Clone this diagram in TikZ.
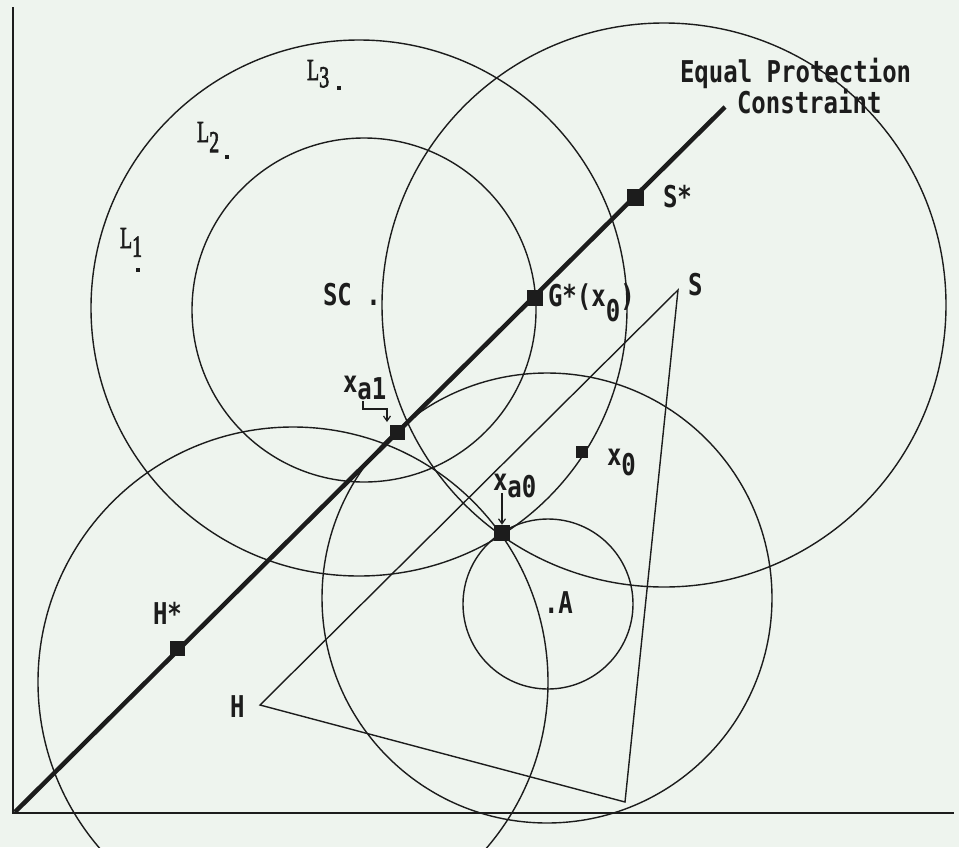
\documentclass[tikz,border=0pt]{standalone}
\usepackage{fontspec}
\setmonofont{DejaVu Sans Mono}
\newfontfamily\myLfont[FakeBold=2.5]{Liberation Serif}
\usetikzlibrary{arrows.meta,calc}
\definecolor{bgc}{RGB}{238,244,238}
\definecolor{ink}{RGB}{28,28,28}
\newcommand{\mylbl}[1]{\scalebox{1}[1.25]{\fontsize{24}{24}\selectfont\ttfamily\bfseries #1}}
\newcommand{\mylo}[2]{\raisebox{-#1pt}{#2}}
\newcommand{\myLsub}[2]{\scalebox{0.95}[1.45]{\fontsize{21}{21}\selectfont\myLfont L\raisebox{-#1pt}{#2}}}
\begin{document}
\begin{tikzpicture}[x=1pt,y=-1pt,
  curve/.style={draw=ink,line width=1.4pt},
  axis/.style={draw=ink,line width=2pt},
  epc/.style={draw=ink,line width=4.5pt},
  sq/.style={rectangle,fill=ink,inner sep=0pt,minimum size=#1},
  sq/.default=16pt,
  dotn/.style={rectangle,fill=ink,inner sep=0pt,minimum width=4pt,minimum height=4pt},
  lbl/.style={inner sep=0pt,outer sep=0pt,text=ink,anchor=base west},
  arr/.style={draw=ink,line width=1.2pt,-{Straight Barb[length=5pt,width=7pt]}}]
\fill[bgc] (0,0) rectangle (959,847);
\useasboundingbox (0,0) rectangle (959,847);
\clip (0,0) rectangle (959,847);
% centres
\coordinate (SC) at (359,308);
\coordinate (SCi) at (364,310);
\coordinate (Sc) at (664,305);
\coordinate (Hc) at (293,682);
\coordinate (Ac) at (547,598);
\coordinate (Asc) at (548,604);
% axes
\coordinate (Y) at (13,7);
\coordinate (O) at (13,813);
\coordinate (X) at (954,813);
\draw[axis] (Y) -- (O) -- (X);
% circles
\draw[curve] (SC) circle (268);
\draw[curve] (SCi) circle (172);
\draw[curve] (Sc) circle (282);
\draw[curve] (Hc) circle (255);
\draw[curve] (Ac) circle (225);
\draw[curve] (Asc) circle (85);
% triangle
\coordinate (Hv) at (260,705);
\coordinate (Sv) at (678,290);
\coordinate (Bv) at (625,802);
\draw[curve,line join=miter] (Hv) -- (Sv) -- (Bv) -- cycle;
% equal protection constraint
\coordinate (E0) at (15,812);
\coordinate (E1) at (725,107);
\draw[epc] (E0) -- (E1);
% points
\node[sq=17pt] (Sstar) at (635,197) {};
\node[sq=16pt] (Gstar) at (535,298) {};
\node[sq=15pt] (xa1) at (397,432) {};
\node[sq=16pt] (xa0) at (502,533) {};
\node[sq=15pt] (Hstar) at (177,648) {};
\node[sq=12pt] (x0) at (582,452) {};
% labels
\node[lbl] (eq1) at (680,82) {\mylbl{Equal Protection}};
\node[lbl] (eq2) at (737,113) {\mylbl{Constraint}};
\node[lbl] (tSstar) at (663,207) {\mylbl{S*}};
\node[lbl] (tGstar) at (548,306) {\mylbl{G*(x\mylo{12}{0})}};
\node[lbl] (tS) at (688,295) {\mylbl{S}};
\node[lbl] (tSC) at (323,305) {\mylbl{SC .}};
\node[lbl] (txa1) at (343,392) {\mylbl{x\mylo{6}{a1}}};
\node[lbl] (txa0) at (493,490) {\mylbl{x\mylo{6}{a0}}};
\node[lbl] (tx0) at (607,465) {\mylbl{x\mylo{8}{0}}};
\node[lbl] (tA) at (544,613) {\mylbl{.A}};
\node[lbl] (tHstar) at (153,624) {\mylbl{H*}};
\node[lbl] (tH) at (230,717) {\mylbl{H}};
\node[lbl] (L1) at (120,248) {\myLsub{6}{1}};
\node[lbl] (L2) at (197,142) {\myLsub{7}{2}};
\node[lbl] (L3) at (307,80) {\myLsub{5}{3}};
\node[dotn] (d1) at (138,270) {};
\node[dotn] (d2) at (227,157) {};
\node[dotn] (d3) at (339,88) {};
% arrows
\coordinate (a1s) at (363,401);
\coordinate (a1m) at (363,409);
\coordinate (a1n) at (387,409);
\coordinate (a1e) at (387,422);
\coordinate (a0s) at (502,493);
\draw[arr] (a1s) -- (a1m) -- (a1n) -- (a1e);
\draw[arr] (a0s) -- (xa0.north);
\end{tikzpicture}
\end{document}
